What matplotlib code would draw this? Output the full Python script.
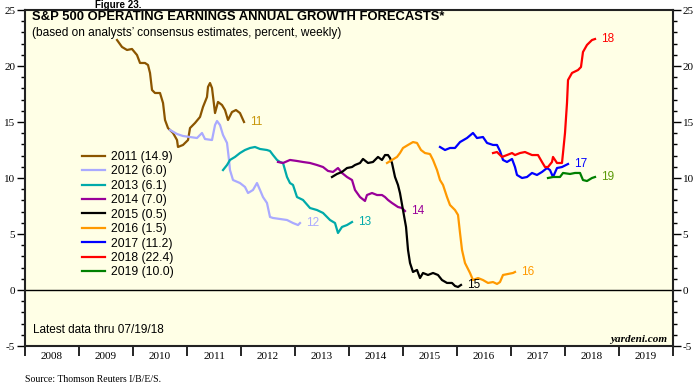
import matplotlib
matplotlib.use("Agg")
import matplotlib.pyplot as plt
from matplotlib.ticker import MultipleLocator, FixedLocator, NullFormatter

plt.rcParams["axes.unicode_minus"] = False

# ---------------- data (decimal year, percent) ----------------
d2011 = [2009.704, 2009.796, 2009.889, 2009.981, 2010.074, 2010.130, 2010.222, 2010.278, 2010.315, 2010.352,
         2010.407, 2010.500, 2010.556, 2010.593, 2010.648, 2010.741, 2010.815, 2010.833, 2010.926, 2011.019,
         2011.056, 2011.148, 2011.241, 2011.296, 2011.370, 2011.389, 2011.426, 2011.463, 2011.519, 2011.574,
         2011.648, 2011.704, 2011.759, 2011.833, 2011.907, 2011.981, 2012.056]
v2011 = [22.32, 21.70, 21.43, 21.52, 20.98, 20.27, 20.27, 20.09, 19.38, 17.86,
         17.59, 17.59, 16.70, 15.18, 14.46, 14.02, 13.39, 12.77, 12.95, 13.39,
         14.46, 14.91, 15.45, 16.34, 17.23, 18.13, 18.48, 18.04, 15.80, 16.79,
         16.52, 16.07, 15.18, 15.89, 16.07, 15.80, 15.00]

d2012 = [2010.685, 2010.815, 2010.926, 2011.056, 2011.185, 2011.278, 2011.333, 2011.463, 2011.519, 2011.556,
         2011.611, 2011.667, 2011.741, 2011.778, 2011.796, 2011.852, 2011.981, 2012.074, 2012.130, 2012.222,
         2012.296, 2012.352, 2012.407, 2012.481, 2012.537, 2012.593, 2012.722, 2012.852, 2012.963, 2013.056,
         2013.093]
v2012 = [14.29, 13.93, 13.75, 13.66, 13.57, 14.02, 13.48, 13.39, 14.73, 15.09,
         14.73, 13.84, 13.13, 11.61, 10.71, 9.82, 9.55, 9.20, 8.66, 8.93,
         9.55, 8.93, 8.30, 7.77, 6.52, 6.43, 6.34, 6.25, 5.98, 5.80,
         5.98]

d2013 = [2011.667, 2011.741, 2011.796, 2011.889, 2011.981, 2012.074, 2012.167, 2012.259, 2012.352, 2012.481,
         2012.537, 2012.593, 2012.667, 2012.722, 2012.778, 2012.852, 2012.907, 2012.963, 2013.037, 2013.148,
         2013.278, 2013.407, 2013.519, 2013.648, 2013.741, 2013.796, 2013.870, 2013.963, 2014.056]
v2013 = [10.71, 11.16, 11.61, 11.88, 12.23, 12.50, 12.68, 12.77, 12.59, 12.50,
         12.41, 12.05, 11.61, 11.43, 11.34, 10.09, 9.55, 9.38, 8.30, 8.04,
         7.32, 7.14, 6.88, 6.25, 5.98, 5.09, 5.63, 5.80, 6.07]

d2014 = [2012.685, 2012.778, 2012.907, 2013.037, 2013.148, 2013.278, 2013.407, 2013.519, 2013.611, 2013.704,
         2013.796, 2013.870, 2013.963, 2014.056, 2014.111, 2014.204, 2014.296, 2014.333, 2014.426, 2014.519,
         2014.611, 2014.667, 2014.722, 2014.796, 2014.852, 2014.907, 2014.981, 2015.037]
v2014 = [11.43, 11.34, 11.61, 11.52, 11.43, 11.34, 11.16, 10.98, 10.63, 10.54,
         10.89, 10.45, 10.09, 9.82, 8.93, 8.30, 7.95, 8.48, 8.66, 8.48,
         8.48, 8.30, 8.04, 7.77, 7.59, 7.41, 7.32, 7.05]

d2015 = [2013.685, 2013.778, 2013.870, 2013.963, 2014.056, 2014.111, 2014.204, 2014.259, 2014.352, 2014.444,
         2014.537, 2014.611, 2014.667, 2014.722, 2014.759, 2014.796, 2014.852, 2014.907, 2014.944, 2015.000,
         2015.056, 2015.093, 2015.130, 2015.185, 2015.259, 2015.315, 2015.370, 2015.463, 2015.556, 2015.648,
         2015.722, 2015.815, 2015.907, 2015.963, 2016.019, 2016.074]
v2015 = [10.09, 10.36, 10.54, 10.89, 10.98, 11.16, 11.34, 11.70, 11.34, 11.43,
         11.88, 11.61, 12.05, 12.05, 11.79, 11.34, 10.09, 9.38, 8.66, 7.14,
         5.63, 3.57, 2.41, 1.61, 1.79, 1.07, 1.52, 1.34, 1.52, 1.34,
         0.89, 0.63, 0.63, 0.36, 0.27, 0.45]

d2016 = [2014.704, 2014.796, 2014.889, 2014.944, 2015.000, 2015.093, 2015.185, 2015.259, 2015.333, 2015.407,
         2015.500, 2015.556, 2015.630, 2015.685, 2015.741, 2015.815, 2015.870, 2015.963, 2016.019, 2016.056,
         2016.093, 2016.148, 2016.241, 2016.296, 2016.389, 2016.481, 2016.574, 2016.667, 2016.741, 2016.796,
         2016.852, 2016.944, 2017.037, 2017.074]
v2016 = [11.34, 11.61, 11.88, 12.23, 12.68, 12.95, 13.21, 13.13, 12.50, 12.23,
         12.14, 11.61, 10.71, 9.82, 9.38, 8.30, 7.59, 7.14, 6.70, 5.09,
         3.57, 2.41, 1.52, 0.89, 1.07, 0.89, 0.63, 0.71, 0.54, 0.71,
         1.34, 1.43, 1.52, 1.61]

d2017 = [2015.685, 2015.778, 2015.870, 2015.963, 2016.056, 2016.185, 2016.296, 2016.370, 2016.481, 2016.556,
         2016.667, 2016.741, 2016.796, 2016.852, 2016.926, 2017.019, 2017.074, 2017.111, 2017.204, 2017.296,
         2017.389, 2017.481, 2017.574, 2017.667, 2017.722, 2017.778, 2017.852, 2017.944, 2018.056]
v2017 = [12.77, 12.50, 12.68, 12.68, 13.21, 13.57, 14.02, 13.57, 13.66, 13.13,
         12.95, 12.95, 12.41, 11.61, 11.43, 11.70, 10.98, 10.27, 10.00, 10.09,
         10.45, 10.27, 10.54, 10.89, 10.71, 10.09, 10.89, 10.98, 11.25]

d2018 = [2016.667, 2016.741, 2016.833, 2016.926, 2017.019, 2017.074, 2017.167, 2017.259, 2017.389, 2017.500,
         2017.574, 2017.630, 2017.685, 2017.759, 2017.778, 2017.852, 2017.944, 2017.963, 2018.000, 2018.037,
         2018.056, 2018.130, 2018.241, 2018.296, 2018.333, 2018.407, 2018.500, 2018.556]
v2018 = [12.23, 12.32, 11.88, 12.05, 12.23, 12.05, 12.23, 12.32, 12.05, 12.05,
         11.43, 10.98, 10.98, 11.43, 11.88, 11.34, 11.34, 12.23, 14.02, 16.70,
         18.75, 19.38, 19.64, 19.91, 21.25, 21.88, 22.32, 22.41]

d2019 = [2017.685, 2017.778, 2017.907, 2017.963, 2018.093, 2018.185, 2018.278, 2018.333, 2018.407, 2018.500,
         2018.556]
v2019 = [10.00, 10.09, 10.09, 10.45, 10.36, 10.45, 10.45, 9.82, 9.73, 10.00,
         10.09]

legend_labels = ["2011 (14.9)", "2012 (6.0)", "2013 (6.1)", "2014 (7.0)", "2015 (0.5)",
                 "2016 (1.5)", "2017 (11.2)", "2018 (22.4)", "2019 (10.0)"]
end_labels = ["11", "12", "13", "14", "15", "16", "17", "18", "19"]
year_labels = [str(y) for y in range(2008, 2020)]

title = "S&P 500 OPERATING EARNINGS ANNUAL GROWTH FORECASTS*"
subtitle = "(based on analysts\u2019 consensus estimates, percent, weekly)"

# ---------------- styles ----------------
line_colors = ["#8B5500", "#AAAAFF", "#00AAAA", "#990099", "#000000",
               "#FF9900", "#0000FF", "#FF0000", "#008000"]
label_colors = ["#C8960A", "#AAAAFF", "#00AAAA", "#990099", "#000000",
                "#FF9900", "#0000FF", "#FF0000", "#5C9A0A"]

series = [(d2011, v2011), (d2012, v2012), (d2013, v2013), (d2014, v2014), (d2015, v2015),
          (d2016, v2016), (d2017, v2017), (d2018, v2018), (d2019, v2019)]

sans = "Liberation Sans"
serif = "Liberation Serif"

fig = plt.figure(figsize=(6.97, 3.92), dpi=100)
ax = fig.add_axes([25 / 697, 1 - 346 / 392, 648 / 697, 336 / 392])
ax.set_facecolor("#FFFFE6")

handles = []
for (d, v), c, lc, el, lab in zip(series, line_colors, label_colors, end_labels, legend_labels):
    h, = ax.plot(d, v, color=c, lw=1.6, label=lab, solid_joinstyle="round")
    handles.append(h)
    ax.annotate(el, (d[-1], v[-1]), xytext=(4, 0), textcoords="offset points",
                ha="left", va="center", color=lc, fontsize=8.5, family=sans)

ax.axhline(0, color="black", lw=1.0)

ax.set_xlim(2008, 2020)
ax.set_ylim(-5, 25)

# y ticks both sides
ax.yaxis.set_major_locator(MultipleLocator(5))
ax.yaxis.set_minor_locator(MultipleLocator(1))
ax.tick_params(axis="y", which="major", direction="out", length=6, width=1,
               left=True, right=True, labelleft=True, labelright=True, labelsize=8, pad=1)
ax.tick_params(axis="y", which="minor", direction="out", length=3, width=1, left=True, right=True)
for lab in ax.get_yticklabels():
    lab.set_family(serif)

# x ticks: boundaries as major (no labels), centers as minor labels
ax.xaxis.set_major_locator(FixedLocator(list(range(2008, 2021))))
ax.xaxis.set_major_formatter(NullFormatter())
ax.xaxis.set_minor_locator(FixedLocator([y + 0.5 for y in range(2008, 2020)]))
ax.set_xticklabels(year_labels, minor=True)
ax.tick_params(axis="x", which="major", direction="out", length=7, width=1.2)
ax.tick_params(axis="x", which="minor", length=0, labelsize=8, pad=4)
for lab in ax.get_xticklabels(minor=True):
    lab.set_family(serif)

for s in ax.spines.values():
    s.set_linewidth(1.5)
    s.set_color("#222222")

leg = ax.legend(handles=handles, loc="upper left", bbox_to_anchor=(57 / 648, (346 - 151) / 336),
                frameon=False, prop={"family": sans, "size": 8.7}, handlelength=1.9,
                handletextpad=0.5, labelspacing=0.2, borderaxespad=0, borderpad=0)

fig.text(32 / 697, 1 - 17 / 392, title, fontsize=9.4, fontweight="bold", family=sans,
         va="center", ha="left")
fig.text(32 / 697, 1 - 33 / 392, subtitle, fontsize=8.6, family=sans, va="center", ha="left")
fig.text(95 / 697, 1 - 8 / 392, "Figure 23.", fontsize=7, fontweight="bold", family=sans,
         va="baseline", ha="left")
fig.text(33 / 697, 1 - 330 / 392, "Latest data thru 07/19/18", fontsize=8.5, family=sans,
         va="center", ha="left")
fig.text(667 / 697, 1 - 339 / 392, "yardeni.com", fontsize=8, family=serif, fontweight="bold",
         fontstyle="italic", va="center", ha="right")
fig.text(25 / 697, 1 - 380 / 392, "Source: Thomson Reuters I/B/E/S.", fontsize=7, family=serif,
         va="center", ha="left")

fig.savefig("out.png", dpi=100, facecolor="white")
